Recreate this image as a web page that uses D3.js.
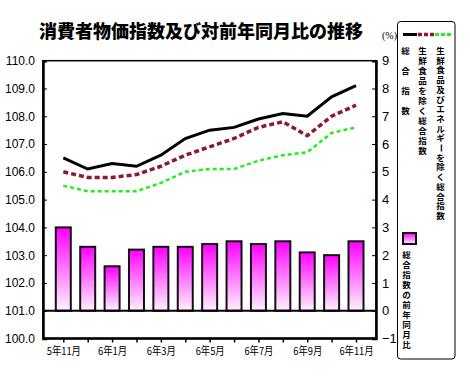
<!DOCTYPE html>
<html><head><meta charset="utf-8">
<script src="https://cdn.jsdelivr.net/npm/d3@7"></script>
<style>
body{margin:0;background:#fff;}
svg{display:block;}
</style></head>
<body>
<script>
const categories = ["5年11月","6年12月","6年1月","6年2月","6年3月","6年4月","6年5月","6年6月","6年7月","6年8月","6年9月","6年10月","6年11月"];
const tickLabels = ["5年11月","","6年1月","","6年3月","","6年5月","","6年7月","","6年9月","","6年11月"];
const sogo = [106.5,106.1,106.3,106.2,106.6,107.2,107.5,107.6,107.9,108.1,108.0,108.7,109.1];
const seisenJoku = [106.0,105.8,105.8,105.9,106.2,106.6,106.9,107.2,107.6,107.8,107.3,108.0,108.4];
const seisenEneJoku = [105.5,105.3,105.3,105.3,105.6,106.0,106.1,106.1,106.4,106.6,106.7,107.4,107.6];
const yoy = [3.0,2.3,1.6,2.2,2.3,2.3,2.4,2.5,2.4,2.5,2.1,2.0,2.5];
const leftTicks = [100,101,102,103,104,105,106,107,108,109,110];
const rightTicks = [-1,0,1,2,3,4,5,6,7,8,9];
const title = "消費者物価指数及び対前年同月比の推移";
const legendNames = ["総合指数","生鮮食品を除く総合指数","生鮮食品及びエネルギーを除く総合指数","総合指数の前年同月比"];

const W=470,H=383;
const svg=d3.select("body").append("svg").attr("width",W).attr("height",H);
const defs=svg.append("defs");
const g=defs.append("linearGradient").attr("id","barg").attr("x1",0).attr("y1",0).attr("x2",0).attr("y2",1);
g.append("stop").attr("offset","0%").attr("stop-color","#ff00ff");
g.append("stop").attr("offset","100%").attr("stop-color","#fff2ff");

const L=43,R=376,T=60.7,B=338.5;
const x=d3.scalePoint().domain(categories).range([63.3,356]);
const yL=d3.scaleLinear().domain([100,110]).range([B,T]);
const yR=d3.scaleLinear().domain([-1,9]).range([B,T]);

// title
svg.append("text").attr("x",201).attr("y",38).attr("text-anchor","middle")
  .style("font-family","'Noto Sans CJK JP'").style("font-weight",900).style("font-size","18px")
  .text(title);
svg.append("text").attr("x",382).attr("y",39).style("font-family","'Liberation Serif'").style("font-size","10px").text("(%)");

// frame
svg.append("rect").attr("x",L).attr("y",T).attr("width",R-L).attr("height",B-T)
  .attr("fill","none").attr("stroke","#000").attr("stroke-width",1.5);

// bars
svg.append("g").selectAll("rect").data(yoy).join("rect")
  .attr("x",(d,i)=>x(categories[i])-7.5).attr("width",15)
  .attr("y",d=>yR(d)).attr("height",d=>yR(0)-yR(d))
  .attr("fill","url(#barg)").attr("stroke","#111").attr("stroke-width",2);

// zero line
svg.append("line").attr("x1",L).attr("x2",R).attr("y1",yR(0)).attr("y2",yR(0)).attr("stroke","#000").attr("stroke-width",2);

// axes
const fontNum="'Liberation Sans Narrow','Liberation Sans',sans-serif";
const ax=svg.append("g").attr("transform",`translate(${L},0)`).call(d3.axisLeft(yL).tickValues(leftTicks).tickFormat(d3.format(".1f")).tickSize(-4).tickPadding(8));
ax.select(".domain").attr("stroke-width",2.5);
ax.selectAll("text").style("font-family",fontNum).style("font-size","12px");
const ar=svg.append("g").attr("transform",`translate(${R},0)`).call(d3.axisRight(yR).tickValues(rightTicks).tickSize(-4).tickPadding(6));
ar.select(".domain").attr("stroke-width",2.5);
ar.selectAll("text").style("font-family",fontNum).style("font-size","13px");
const xb=svg.append("g").attr("transform",`translate(0,${B})`).call(d3.axisBottom(x).tickFormat((d,i)=>tickLabels[i]).tickSize(4).tickPadding(5));
xb.select(".domain").attr("stroke-width",2.5).attr("d",`M${L},0H${R}`);
xb.selectAll("line").attr("stroke-width",1.5);
xb.selectAll(".tick text").style("font-family","'Noto Sans CJK JP'").style("font-size","11px").attr("transform","scale(0.85,1)");

// lines
const line=arr=>d3.line().x((d,i)=>x(categories[i])).y(d=>yL(d))(arr);
svg.append("path").attr("d",line(sogo)).attr("fill","none").attr("stroke","#000").attr("stroke-width",3);
svg.append("path").attr("d",line(seisenJoku)).attr("fill","none").attr("stroke","#8b1a2e").attr("stroke-width",3.5).attr("stroke-dasharray","5,3");
svg.append("path").attr("d",line(seisenEneJoku)).attr("fill","none").attr("stroke","#22ee22").attr("stroke-width",2.5).attr("stroke-dasharray","4,3");

// legend
svg.append("rect").attr("x",397.5).attr("y",21.5).attr("width",57.5).attr("height",337.5).attr("rx",3)
  .attr("fill","#fff").attr("stroke","#000").attr("stroke-width",1);
const lg=svg.append("g");
lg.append("line").attr("x1",403).attr("x2",417).attr("y1",34.5).attr("y2",34.5).attr("stroke","#000").attr("stroke-width",3);
lg.append("line").attr("x1",418).attr("x2",434).attr("y1",34.5).attr("y2",34.5).attr("stroke","#8b1a2e").attr("stroke-width",3.5).attr("stroke-dasharray","4,2");
lg.append("line").attr("x1",435).attr("x2",451).attr("y1",34.5).attr("y2",34.5).attr("stroke","#22ee22").attr("stroke-width",3).attr("stroke-dasharray","4,2");
const cols=[{x:405.5,y:54,dy:20},{x:422.5,y:54,dy:10},{x:440.5,y:54,dy:9.7},{x:406.5,y:258,dy:10}];
legendNames.forEach((s,k)=>{
  const c=cols[k];
  lg.append("g").selectAll("text").data(Array.from(s)).join("text")
    .attr("x",c.x).attr("y",(d,i)=>c.y+i*c.dy).attr("text-anchor","middle")
    .attr("transform",(d,i)=>d==="ー"?`rotate(90,${c.x},${c.y+i*c.dy-3})`:null)
    .style("font-family","'Noto Sans CJK JP'").style("font-weight",700).style("font-size","8.5px")
    .text(d=>d);
});
lg.append("rect").attr("x",403).attr("y",233).attr("width",13).attr("height",11)
  .attr("fill","url(#barg)").attr("stroke","#111").attr("stroke-width",2);
</script>
</body></html>
